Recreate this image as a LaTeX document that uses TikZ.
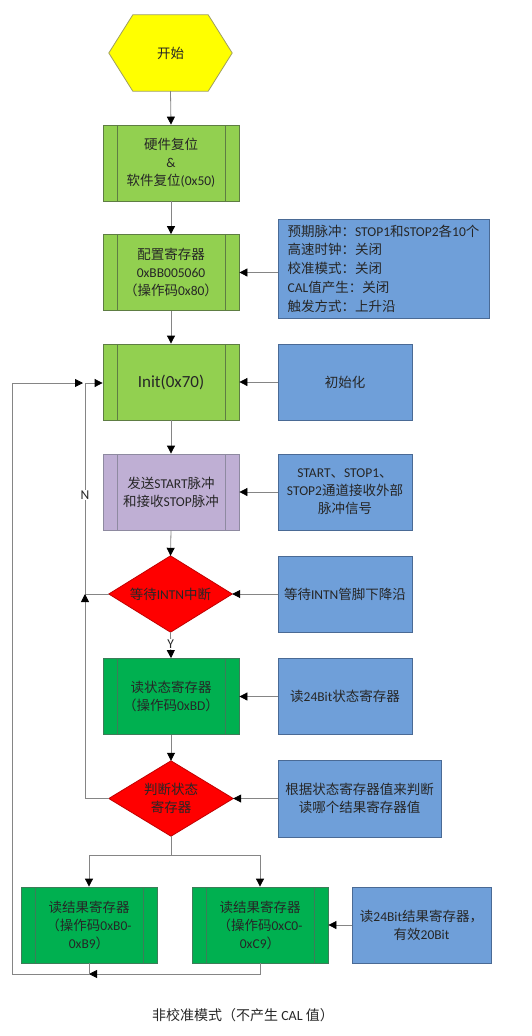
\documentclass[tikz,border=0pt]{standalone}
\usepackage{fontspec}
\setmainfont{Carlito}
\newfontfamily\cjkfont{Noto Sans CJK SC}
\newfontfamily\latfont{Carlito}
\usetikzlibrary{calc,arrows.meta}
\XeTeXinterchartokenstate=1
\newcount\cjkc
\cjkc="4E00 \loop\XeTeXcharclass\cjkc=7 \ifnum\cjkc<"9FFF \advance\cjkc by 1 \repeat
\cjkc="3000 \loop\XeTeXcharclass\cjkc=7 \ifnum\cjkc<"303F \advance\cjkc by 1 \repeat
\cjkc="FF00 \loop\XeTeXcharclass\cjkc=7 \ifnum\cjkc<"FFEF \advance\cjkc by 1 \repeat
\XeTeXinterchartoks 0 7 = {\cjkfont}
\XeTeXinterchartoks 4095 7 = {\cjkfont}
\XeTeXinterchartoks 7 0 = {\latfont}
\XeTeXinterchartoks 4095 0 = {\latfont}
\definecolor{lgreen}{HTML}{92D050}
\definecolor{lgreenb}{HTML}{5E7D43}
\definecolor{dgreen}{HTML}{00B050}
\definecolor{dgreenb}{HTML}{3C7D58}
\definecolor{purp}{HTML}{BFAFD4}
\definecolor{purpb}{HTML}{8E8AA0}
\definecolor{blu}{HTML}{6F9FD9}
\definecolor{blub}{HTML}{4A6A95}
\definecolor{redd}{HTML}{FF0000}
\definecolor{reddb}{HTML}{C00000}
\definecolor{yel}{HTML}{FFFF00}
\definecolor{yelb}{HTML}{9E9E60}
\definecolor{conn}{HTML}{858585}
\definecolor{txt}{HTML}{262626}
\tikzset{
  base/.style={inner sep=0pt, align=center, text=txt, font=\fontsize{13.5}{18}\selectfont},
  sub/.style={base, draw=#1, line width=0.8pt, minimum width=136pt, minimum height=76pt,
    path picture={\draw[#1, line width=0.8pt]
      ([xshift=14pt]path picture bounding box.north west) -- ([xshift=14pt]path picture bounding box.south west)
      ([xshift=-14pt]path picture bounding box.north east) -- ([xshift=-14pt]path picture bounding box.south east);}},
  lg/.style={sub=lgreenb, fill=lgreen},
  dg/.style={sub=dgreenb, fill=dgreen},
  pu/.style={sub=purpb, fill=purp},
  info/.style={base, draw=blub, fill=blu, line width=0.8pt, minimum height=76pt},
  shp/.style={base, minimum width=123pt, minimum height=76pt},
  arr/.style={draw=conn, line width=0.8pt, -{Triangle[length=8pt,width=8pt,color=black]}},
  ln/.style={draw=conn, line width=0.8pt},
  lab/.style={base, fill=white, inner sep=1pt}
}
\begin{document}
\begin{tikzpicture}[x=1pt,y=-1pt]
\useasboundingbox (0,0) rectangle (531,1036);
% start hexagon
\node[shp] (start) at (170.5,53) {};
\fill[yel,draw=yelb,line width=0.8pt] ($(start.north west)+(24,0)$) -- ($(start.north east)+(-24,0)$) -- (start.east) -- ($(start.south east)+(-24,0)$) -- ($(start.south west)+(24,0)$) -- (start.west) -- cycle;
\node[base] at (start) {开始};

\node[lg] (b1) at (171,163) {硬件复位\\\&\\软件复位(0x50)};
\node[lg] (b2) at (171,272.5) {配置寄存器\\0xBB005060\\（操作码0x80）};
\node[info, minimum width=211pt, minimum height=99pt, align=left, font=\fontsize{13.5}{18.75}\selectfont] (info1) at (383.5,268.5) {预期脉冲：STOP1和STOP2各10个\\高速时钟：关闭\\校准模式：关闭\\CAL值产生：关闭\\触发方式：上升沿};

\node[lg, font=\fontsize{17}{20}\selectfont] (init) at (171,382) {Init(0x70)};
\node[info, minimum width=134pt] (initinfo) at (345,382) {初始化};

\node[pu] (send) at (171,492) {发送START脉冲\\和接收STOP脉冲};
\node[info, minimum width=134pt] (sendinfo) at (345,492) {START、STOP1、\\STOP2通道接收外部\\脉冲信号};

\node[shp] (d1) at (170.5,594) {};
\fill[redd,draw=reddb,line width=0.8pt] (d1.north) -- (d1.east) -- (d1.south) -- (d1.west) -- cycle;
\node[base] at (d1) {等待INTN中断};
\node[info, minimum width=134pt] (d1info) at (345,594) {等待INTN管脚下降沿};

\node[dg] (b3) at (171,696.5) {读状态寄存器\\（操作码0xBD）};
\node[info, minimum width=134pt] (b3info) at (345,696.5) {读24Bit状态寄存器};

\node[shp, minimum width=124pt, minimum height=75pt] (d2) at (171,798.5) {};
\fill[redd,draw=reddb,line width=0.8pt] (d2.north) -- (d2.east) -- (d2.south) -- (d2.west) -- cycle;
\node[base] at (d2) {判断状态\\寄存器};
\node[info, minimum width=163pt, minimum height=77pt] (d2info) at (359.5,798.5) {根据状态寄存器值来判断\\读哪个结果寄存器值};

\node[dg] (b4) at (89,925) {读结果寄存器\\（操作码0xB0-\\0xB9）};
\node[dg] (b5) at (260,925) {读结果寄存器\\（操作码0xC0-\\0xC9）};
\node[info, minimum width=139pt] (b5info) at (421.5,925) {读24Bit结果寄存器，\\有效20Bit};

\node[base, font=\fontsize{14}{18}\selectfont] (cap) at (243,1015) {非校准模式（不产生 CAL 值）};

% connectors
\draw[arr] (start.south) -- (b1.north);
\draw[arr] (b1.south) -- (b2.north);
\draw[arr] (b2.south) -- (init.north);
\draw[arr] (info1.west |- b2.east) -- (b2.east);
\draw[arr] (initinfo.west) -- (init.east);
\draw[arr] (init.south) -- (send.north);
\draw[arr] (sendinfo.west) -- (send.east);
\draw[arr] (send.south) -- (d1.north);
\draw[arr] (d1info.west) -- (d1.east);
\draw[arr] (d1.south) -- node[lab, pos=0.45] {Y} (b3.north);
\draw[arr] (b3info.west) -- (b3.east);
\draw[arr] (b3.south) -- (d2.north);
\draw[arr] (d2info.west) -- (d2.east);
\draw[arr] (b5info.west) -- (b5.east);

\coordinate (j1) at (85,594);
\coordinate (jt) at (85,383);
\draw[arr] (d1.west) -- (j1) -- node[lab, pos=0.47] {N} (jt) -- (jt -| init.west);
\draw[arr] (d2.west) -| (j1);

\coordinate (split) at (171,855);
\draw[ln] (d2.south) -- (split);
\draw[arr] (split) -| (b4.north);
\draw[arr] (split) -| (b5.north);

\coordinate (j2) at (89,974);
\coordinate (lb) at (12,974);
\coordinate (lt) at (12,383);
\coordinate (le) at (83,383);
\draw[arr] (b5.south) |- (j2);
\draw[arr] (b4.south) -- (j2) -- (lb) -- (lt) -- (le);
\end{tikzpicture}
\end{document}
